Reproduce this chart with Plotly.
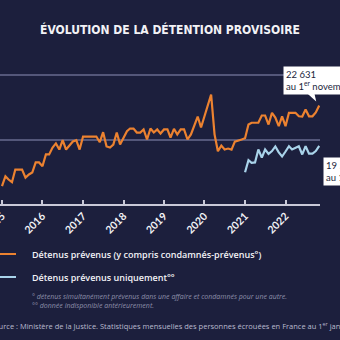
import pandas as pd
import plotly.graph_objects as go

# ---------------- data ----------------
months = pd.date_range("2015-01-01", "2022-11-01", freq="MS")

prevenus_total = [
    16380, 17150, 16900, 16690, 17670, 17670, 17670, 17050, 17290, 17440, 18220, 18220,
    17930, 18840, 18840, 19380, 19700, 19220, 19950, 19220, 19530, 19850, 19950, 19220,
    20230, 20230, 20230, 20230, 20230, 19790, 20570, 19460, 19380, 19610, 20540, 19610,
    20150, 20640, 20850, 20850, 20540, 20540, 20780, 20000, 20850, 20540, 20780, 20460,
    20780, 20780, 20150, 20830, 20390, 20780, 20780, 20000, 20390, 21160, 21780, 20930,
    21780, 22620, 23490, 20400, 19090, 19530, 19220, 19300, 19220, 19830, 19900, 20000,
    20100, 21160, 21300, 21300, 21300, 21860, 21860, 21160, 22070, 21700, 21030, 21800,
    21030, 22070, 22070, 22070, 21800, 21780, 22330, 21800, 21800, 22100, 22631,
]

prevenus_seuls_start = "2021-01-01"
prevenus_seuls = [
    17465, 18395, 18190, 18220, 19225, 18600, 19225, 18880, 19100, 19460, 19000, 18680,
    19070, 19480, 19225, 19380, 19480, 18840, 19480, 18900, 18900, 19100, 19500,
]

tick_years = ["2015", "2016", "2017", "2018", "2019", "2020", "2021", "2022"]
grid_values = [15000, 20000, 25000]

title_text = "ÉVOLUTION DE LA DÉTENTION PROVISOIRE"
label_total = "22 631<br>au 1<sup>er</sup> novembre 2022"
label_seuls = "19 531<br>au 1<sup>er</sup> novembre 2022"
legend_total = "Détenus prévenus (y compris condamnés-prévenus°)"
legend_seuls = "Détenus prévenus uniquement°°"
note1 = "° détenus simultanément prévenus dans une affaire et condamnés pour une autre."
note2 = "°° donnée indisponible antérieurement."
source = ("Source : Ministère de la Justice. Statistiques mensuelles des personnes "
          "écrouées en France au 1<sup>er</sup> janvier 2023")

# ---------------- style ----------------
BG = "#1c1f3d"
ORANGE = "#ec8230"
BLUE = "#a9d3ea"
GRID = "#54577a"
AXIS = "#c9c9d8"
WHITE = "#f2f2f6"
NOTE = "#8e90aa"

W, H = 340, 340
ML, MR, MT, MB = 0, 20, 68, 136
PW, PH = W - ML - MR, H - MT - MB


def px2x(px):
    return (px - ML) / PW


def py2y(py):
    return (H - MB - py) / PH


seuls_months = pd.date_range(prevenus_seuls_start, periods=len(prevenus_seuls), freq="MS")

fig = go.Figure()
fig.add_trace(go.Scatter(x=months, y=prevenus_total, mode="lines",
                         line=dict(color=ORANGE, width=2.2), hoverinfo="skip",
                         showlegend=False))
fig.add_trace(go.Scatter(x=seuls_months, y=prevenus_seuls, mode="lines",
                         line=dict(color=BLUE, width=2.2), hoverinfo="skip",
                         showlegend=False))

fig.update_layout(
    width=W, height=H,
    margin=dict(l=ML, r=MR, t=MT, b=MB, pad=0, autoexpand=False),
    paper_bgcolor=BG, plot_bgcolor=BG,
    showlegend=False,
    title=dict(text=title_text, x=0.5, xref="container", xanchor="center",
               y=1 - 30 / H, yref="container", yanchor="middle", automargin=False,
               font=dict(family="DejaVu Sans Condensed, Liberation Sans Narrow, Roboto, sans-serif",
                         size=12, color=WHITE, weight="bold")),
    xaxis=dict(
        type="date",
        range=["2014-12-14", "2022-11-08"],
        tickvals=[f"{y}-01-01" for y in tick_years],
        ticktext=tick_years,
        tickangle=-45,
        ticklabeloverflow="allow",
        automargin=False,
        ticks="inside", ticklen=4, tickwidth=1.5, tickcolor=AXIS,
        showline=True, linecolor=AXIS, linewidth=2,
        showgrid=False, zeroline=False,
        tickfont=dict(family="Lato, Open Sans, sans-serif", size=10.5, color=WHITE, weight="bold"),
    ),
    yaxis=dict(
        range=[15000, 15000 + PH / 12.9 * 1000],
        tickvals=grid_values,
        showticklabels=False,
        automargin=False,
        showgrid=True, gridcolor=GRID, gridwidth=1.5,
        zeroline=False, showline=False,
    ),
)

# callout bubbles anchored on last data points
last_x_t, last_y_t = months[-1], prevenus_total[-1]
last_x_s, last_y_s = seuls_months[-1], prevenus_seuls[-1]

bubble_font = dict(family="Lato, Open Sans, sans-serif", size=9.5, color=BG)
fig.add_annotation(x=last_x_t, y=last_y_t, xref="x", yref="y", text=label_total,
                   showarrow=False, xanchor="left", yanchor="bottom", align="left",
                   xshift=-36, yshift=11, bgcolor="white", borderpad=2,
                   font=bubble_font)
fig.add_annotation(x=last_x_s, y=last_y_s, xref="x", yref="y", text=label_seuls,
                   showarrow=False, xanchor="left", yanchor="top", align="left",
                   xshift=4, yshift=-11, bgcolor="white", borderpad=2,
                   font=bubble_font)

# bubble pointers (pixel offsets from the anchored point, positive y = up)
fig.add_shape(type="path", xref="x", yref="y", xsizemode="pixel", ysizemode="pixel",
              xanchor=last_x_t, yanchor=last_y_t,
              path="M -13,13 L -5,13 L -3,4 Z", fillcolor="white", line=dict(width=0),
              layer="above")
fig.add_shape(type="path", xref="x", yref="y", xsizemode="pixel", ysizemode="pixel",
              xanchor=last_x_s, yanchor=last_y_s,
              path="M 5,-12 L 15,-12 L 4,-2 Z", fillcolor="white", line=dict(width=0),
              layer="above")

# custom legend
for py, col, txt in [(254, ORANGE, legend_total), (277, BLUE, legend_seuls)]:
    fig.add_shape(type="line", xref="paper", yref="paper",
                  x0=px2x(-20), x1=px2x(16), y0=py2y(py), y1=py2y(py),
                  line=dict(color=col, width=2))
    fig.add_annotation(x=px2x(30), y=py2y(py), xref="paper", yref="paper", text=txt,
                       showarrow=False, xanchor="left", yanchor="middle",
                       font=dict(family="Open Sans, sans-serif", size=9, color=WHITE,
                                 weight=600))

for py, txt in [(296, note1), (305, note2)]:
    fig.add_annotation(x=px2x(30), y=py2y(py), xref="paper", yref="paper",
                       text=f"<i>{txt}</i>", showarrow=False, xanchor="left", yanchor="middle",
                       font=dict(family="Open Sans, sans-serif", size=7, color=NOTE))

fig.add_annotation(x=px2x(-12), y=py2y(325), xref="paper", yref="paper", text=source,
                   showarrow=False, xanchor="left", yanchor="middle",
                   font=dict(family="Open Sans, sans-serif", size=7.5, color="#b9bace"))

fig.write_html("out.html", config={"displayModeBar": False})
